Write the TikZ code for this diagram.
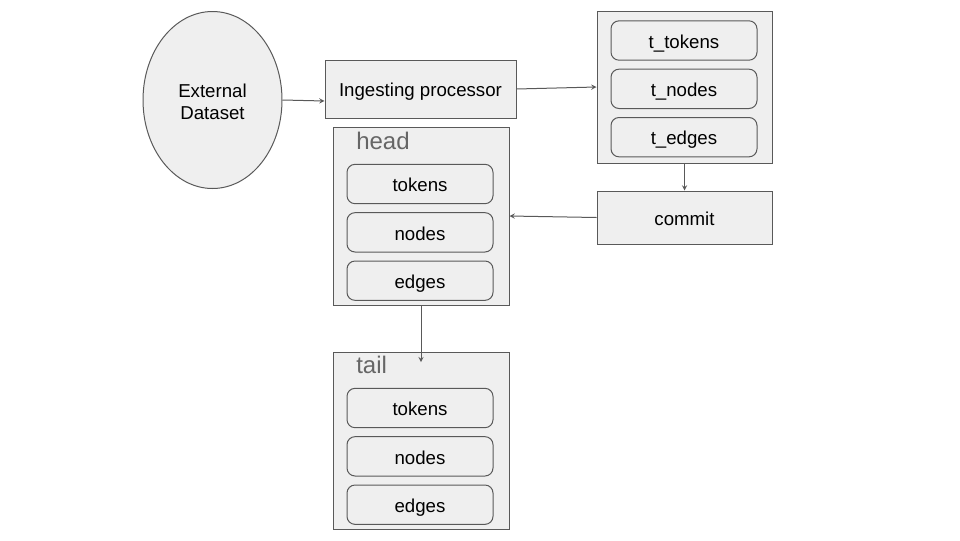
\documentclass[tikz,border=0pt]{standalone}
\usepackage{fontspec}
\setmainfont{Liberation Sans}
\usepackage{xcolor}
\usetikzlibrary{shapes.geometric, arrows}
\usetikzlibrary{positioning}
\definecolor{boxfill}{HTML}{EFEFEF}
\definecolor{lineg}{HTML}{595959}
\definecolor{labelg}{HTML}{666666}
\tikzstyle{arrow} = [->,>=stealth,draw=lineg,line width=0.75pt]
\tikzset{
  box/.style={draw=lineg, fill=boxfill, line width=0.75pt, rectangle, inner sep=0pt,
    text height=11.5pt, text depth=0pt, font=\fontsize{14}{16.3}\selectfont},
  inbox/.style={draw=lineg, fill=boxfill, line width=0.75pt, rectangle, rounded corners=6pt, inner sep=0pt,
    minimum width=109.5pt, minimum height=29.5pt, text height=11.5pt, text depth=0pt,
    font=\fontsize{14}{16.3}\selectfont},
  tag/.style={text=labelg, inner sep=0pt, anchor=west, font=\fontsize{18}{21}\selectfont}
}

\begin{document}
\begin{tikzpicture}[x=0.75pt, y=-0.75pt, node distance=6pt]
        \useasboundingbox (0,0) rectangle (960,540);
        % 数据源与处理
        \node (ext) [box, ellipse, minimum width=104.25pt, minimum height=132.75pt, align=center, text height=28.5pt] at (212.5,100) {External\\Dataset};
        \node (ingest) [box, minimum width=143.25pt, minimum height=43.5pt] at (420.5,89) {Ingesting processor};
        % 临时表
        \node (tmp) [box, minimum width=131.25pt, minimum height=114pt] at (684.5,87) {};
        \node (ttokens) [inbox] at (684,40.5) {t\_tokens};
        \node (tnodes) [inbox, below=of ttokens] {t\_nodes};
        \node (tedges) [inbox, below=of tnodes] {t\_edges};
        \node (commit) [box, minimum width=131.25pt, minimum height=39.75pt] at (684.5,217.5) {commit};
        % head
        \node (head) [box, minimum width=132pt, minimum height=133.5pt] at (421,216) {};
        \node (headtag) [tag] at (356,141) {head};
        \node (htokens) [inbox] at (420,184) {tokens};
        \node (hnodes) [inbox, below=of htokens] {nodes};
        \node (hedges) [inbox, below=of hnodes] {edges};
        % tail
        \node (tail) [box, minimum width=132pt, minimum height=132.75pt] at (421,440.5) {};
        \node (tailtag) [tag] at (356,365) {tail};
        \node (ltokens) [inbox] at (420,408) {tokens};
        \node (lnodes) [inbox, below=of ltokens] {nodes};
        \node (ledges) [inbox, below=of lnodes] {edges};

        % 连线
        \draw[arrow] (ext.east) -- ([yshift=-9pt]ingest.west);
        \draw[arrow] (ingest.east) -- (tmp.west);
        \draw[arrow] (tmp.south) -- (commit.north);
        \draw[arrow] (commit.west) -- (head.east);
        \draw[arrow, shorten >=-8pt] (head.south) -- (tail.north);
    \end{tikzpicture}
\end{document}
